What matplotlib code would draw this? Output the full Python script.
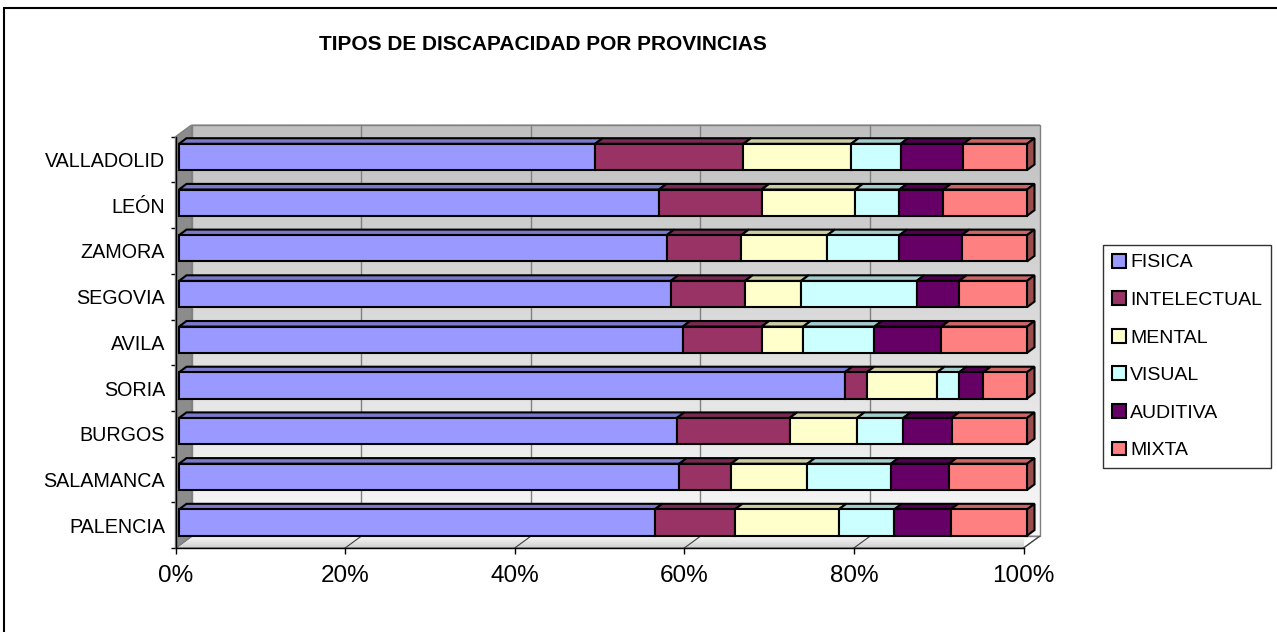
import matplotlib.pyplot as plt
import numpy as np
from matplotlib.colors import LinearSegmentedColormap, to_rgb
from matplotlib.patches import Polygon, Rectangle

plt.rcParams['font.family'] = ['Liberation Sans', 'DejaVu Sans']

provincias = ["VALLADOLID", "LEÓN", "ZAMORA", "SEGOVIA", "AVILA", "SORIA",
              "BURGOS", "SALAMANCA", "PALENCIA"]
tipos = ["FISICA", "INTELECTUAL", "MENTAL", "VISUAL", "AUDITIVA", "MIXTA"]

fisica = [49.1, 56.6, 57.5, 58.0, 59.4, 78.5, 58.7, 59.0, 56.1]
intelectual = [17.5, 12.1, 8.8, 8.75, 9.3, 2.6, 13.3, 6.1, 9.45]
mental = [12.7, 11.05, 10.15, 6.6, 4.9, 8.3, 7.95, 9.0, 12.25]
visual = [5.85, 5.2, 8.5, 13.65, 8.4, 2.6, 5.45, 9.85, 6.55]
auditiva = [7.4, 5.2, 7.35, 5.0, 7.9, 2.85, 5.7, 6.85, 6.65]
mixta = [7.5, 9.85, 7.7, 8.0, 10.1, 5.15, 8.9, 9.2, 9.0]

colores = ["#9999ff", "#993366", "#ffffcc", "#ccffff", "#660066", "#ff8080"]

W, H = 1277, 632
fig = plt.figure(figsize=(W / 100, H / 100), dpi=100)

# front plane of the 3d box, in pixels
x0, x1, ytop, ybot = 175.5, 1023.5, 136.7, 548.0
ax = fig.add_axes([x0 / W, 1 - ybot / H, (x1 - x0) / W, (ybot - ytop) / H])
n = len(provincias)
pxx = (x1 - x0) / 100.0
pxy = (ybot - ytop) / n

# depth of the wall and of the bars (pixels -> data units)
wdx, wdy = 16 / pxx, 11.7 / pxy
bx0, by0 = 3.5 / pxx, 2.6 / pxy
bdx, bdy = 7.5 / pxx, 5.6 / pxy

# back wall with vertical gradient
cmap_wall = LinearSegmentedColormap.from_list("wall", ["#f8f8f8", "#c0c0c0"])
ax.imshow(np.linspace(0, 1, 200).reshape(-1, 1), cmap=cmap_wall, origin="lower",
          extent=[wdx, 100 + wdx, wdy, n + wdy], aspect="auto", clip_on=False, zorder=0)
ax.add_patch(Rectangle((wdx, wdy), 100, n, fill=False, ec="#808080", lw=1,
                       clip_on=False, zorder=1))
for v in [20, 40, 60, 80]:
    ax.plot([v + wdx, v + wdx], [wdy, n + wdy], color="#808080", lw=1,
            clip_on=False, zorder=1)

# floor
floor = Polygon([(0, 0), (100, 0), (100 + wdx, wdy), (wdx, wdy)], closed=True,
                fc="none", ec="#808080", lw=1, clip_on=False, zorder=2)
ax.add_patch(floor)
cmap_floor = LinearSegmentedColormap.from_list("floor", ["#cfcfcf", "#f8f8f8"])
im = ax.imshow(np.linspace(0, 1, 50).reshape(-1, 1), cmap=cmap_floor, origin="lower",
               extent=[0, 100 + wdx, 0, wdy], aspect="auto", zorder=1)
im.set_clip_path(floor)
for v in range(0, 101, 20):
    ax.plot([v, v + wdx], [0, wdy], color="#404040", lw=0.8, clip_on=False, zorder=2)

# left side wall
ax.add_patch(Polygon([(0, 0), (wdx, wdy), (wdx, n + wdy), (0, n)], closed=True,
                     fc="#8c8c8c", ec="#808080", lw=1, clip_on=False, zorder=2))

series = [fisica, intelectual, mental, visual, auditiva, mixta]
data = np.array(series, dtype=float)
data = data / data.sum(axis=0) * 100
ypos = np.arange(n)[::-1] + 0.5 + by0
bh = 0.575
left = np.zeros(n) + bx0


def shade(c, f):
    r, g, b = to_rgb(c)
    return (r * f, g * f, b * f)


handles = []
for k, (nombre, col) in enumerate(zip(tipos, colores)):
    vals = data[k]
    bars = ax.barh(ypos, vals, left=left, height=bh, color=col, edgecolor="black",
                   linewidth=1.5, label=nombre, zorder=5, clip_on=False)
    handles.append(bars)
    for yi, li, wi in zip(ypos, left, vals):
        yt = yi + bh / 2
        ax.add_patch(Polygon([(li, yt), (li + wi, yt), (li + wi + bdx, yt + bdy),
                              (li + bdx, yt + bdy)], closed=True, fc=shade(col, 0.8),
                             ec="black", lw=1.5, clip_on=False, zorder=4))
        if k == len(tipos) - 1:
            yb = yi - bh / 2
            r = li + wi
            ax.add_patch(Polygon([(r, yb), (r, yt), (r + bdx, yt + bdy), (r + bdx, yb + bdy)],
                                 closed=True, fc=shade(col, 0.6), ec="black", lw=1.5,
                                 clip_on=False, zorder=4))
    left = left + vals

ax.set_xlim(0, 100)
ax.set_ylim(0, n)
for s in ["top", "right"]:
    ax.spines[s].set_visible(False)
for s in ["left", "bottom"]:
    ax.spines[s].set_color("black")
    ax.spines[s].set_linewidth(1)
    ax.spines[s].set_zorder(3)

ax.set_xticks(range(0, 101, 20))
ax.set_xticklabels([f"{v}%" for v in range(0, 101, 20)], fontsize=17.5)
ax.tick_params(axis="x", length=4.5, width=1, pad=8)
ax.set_yticks(range(n + 1))
ax.set_yticklabels([])
ax.tick_params(axis="y", which="major", length=3.6, width=1)
ax.set_yticks(np.arange(n) + 0.5, minor=True)
ax.set_yticklabels(provincias[::-1], minor=True, fontsize=14.2)
ax.tick_params(axis="y", which="minor", length=0, pad=7.6)

fig.text(543 / W, 1 - 45 / H, "TIPOS DE DISCAPACIDAD POR PROVINCIAS", ha="center",
         va="center", fontsize=15, fontweight="bold")

leg = fig.legend(handles=handles, labels=tipos, loc="upper left",
                 bbox_to_anchor=(1103 / W, 1 - 245 / H), borderaxespad=0,
                 fontsize=14, frameon=True, fancybox=False, handlelength=0.72,
                 handleheight=0.72, handletextpad=0.22, labelspacing=1.02, borderpad=0.45)
leg.get_frame().set_edgecolor("black")
leg.get_frame().set_linewidth(1)

# chart border
fig.patches.append(Rectangle((4 / W, -0.1), 1.2, 1 - 8 / H + 0.1, transform=fig.transFigure,
                             fill=False, ec="black", lw=1.5))

fig.savefig("out.png", dpi=100)
